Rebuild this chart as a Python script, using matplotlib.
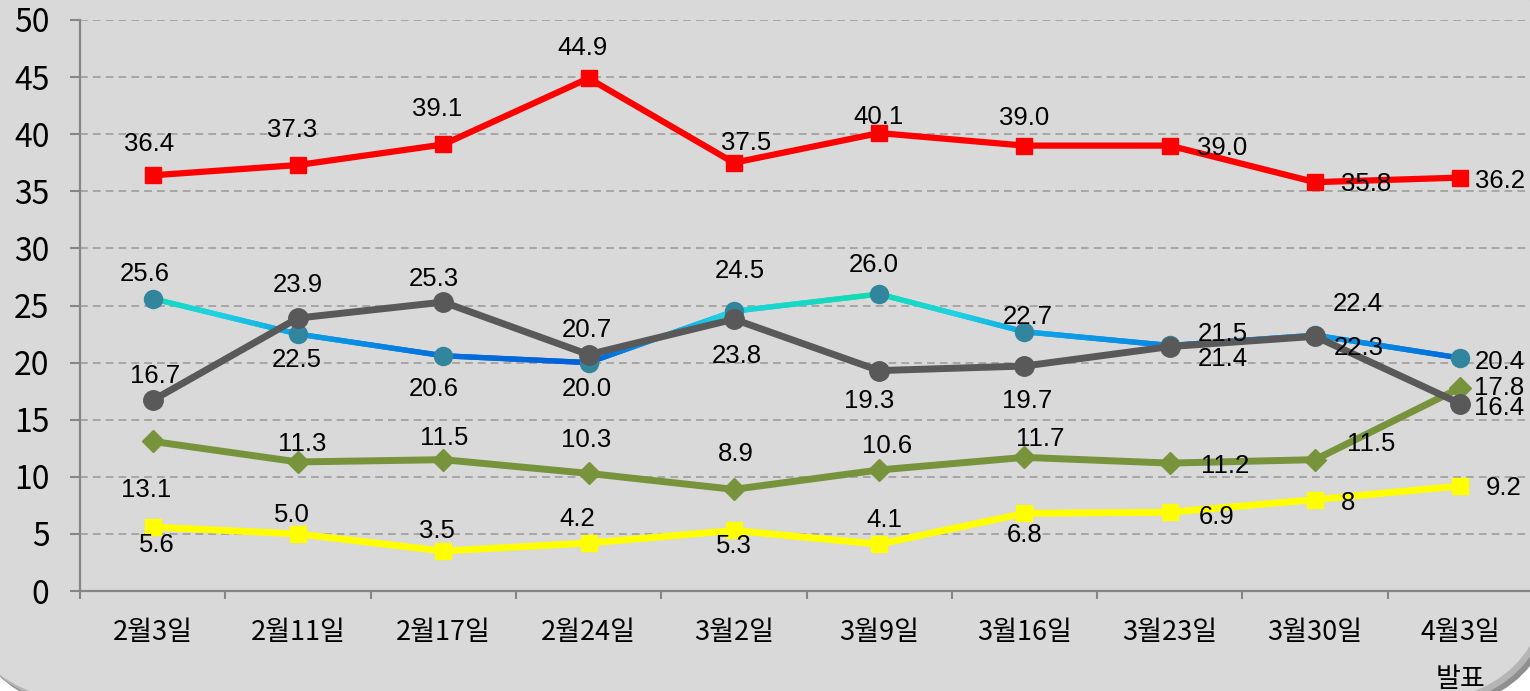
import numpy as np
import matplotlib
matplotlib.use('Agg')
import matplotlib.pyplot as plt
from matplotlib.patches import FancyBboxPatch
from matplotlib.collections import LineCollection
from matplotlib.colors import LinearSegmentedColormap
from matplotlib.transforms import IdentityTransform

# ---------------- data ----------------
categories = ['2월3일', '2월11일', '2월17일', '2월24일', '3월2일', '3월9일',
              '3월16일', '3월23일', '3월30일', '4월3일\n발표']
red_vals = [36.4, 37.3, 39.1, 44.9, 37.5, 40.1, 39.0, 39.0, 35.8, 36.2]
blue_vals = [25.6, 22.5, 20.6, 20.0, 24.5, 26.0, 22.7, 21.5, 22.4, 20.4]
gray_vals = [16.7, 23.9, 25.3, 20.7, 23.8, 19.3, 19.7, 21.4, 22.3, 16.4]
green_vals = [13.1, 11.3, 11.5, 10.3, 8.9, 10.6, 11.7, 11.2, 11.5, 17.8]
yellow_vals = [5.6, 5.0, 3.5, 4.2, 5.3, 4.1, 6.8, 6.9, 8, 9.2]
yellow_labels = ['5.6', '5.0', '3.5', '4.2', '5.3', '4.1', '6.8', '6.9', '8', '9.2']
y_ticks = [0, 5, 10, 15, 20, 25, 30, 35, 40, 45, 50]

# label offsets (pixels, label centre relative to point)
red_off = [(-4, 33), (-6, 37), (-6, 37), (-6, 32), (12, 22), (-1, 18),
           (0, 30), (52, 0), (51, 0), (40, -1)]
blue_off = [(-8, 27), (-1, -24), (-9, -31), (-2, -24), (6, 42), (-5, 31),
            (3, 17), (53, 13), (43, 33), (39, -2)]
gray_off = [(2, 26), (0, 35), (-9, 25), (-2, 27), (3, -35), (-10, -28),
            (3, -33), (53, -10), (44, -10), (39, -2)]
green_off = [(-7, -47), (4, 20), (1, 24), (-2, 35), (2, 37), (8, 26),
             (16, 20), (55, -1), (56, 18), (39, 2)]
yellow_off = [(4, -16), (-6, 21), (-6, 22), (-11, 26), (0, -14), (5, 26),
              (0, -20), (47, -3), (33, -1), (43, 0)]

W, H = 1530, 691
fig = plt.figure(figsize=(W / 100, H / 100), dpi=100, facecolor='white')

# rounded background with shadow
R = 150
for dx, dy, col in [(8, -9, '#8f8f8f'), (4, -5, '#b5b5b5'), (0, 0, '#d9d9d9')]:
    p = FancyBboxPatch((-48 + dx, -12 + dy), 1600, 760,
                       boxstyle=f"round,pad=0,rounding_size={R}",
                       transform=IdentityTransform(), facecolor=col,
                       edgecolor='none', zorder=-5)
    fig.add_artist(p)

ax = fig.add_axes([80 / W, 100 / H, 1453 / W, 571 / H])
ax.set_facecolor('none')
ax.set_xlim(0, 10)
ax.set_ylim(0, 50)
x = np.arange(len(categories)) + 0.5

for s in ['top', 'right']:
    ax.spines[s].set_visible(False)
for s in ['left', 'bottom']:
    ax.spines[s].set_color('#868686')
    ax.spines[s].set_linewidth(1.6)

ax.set_yticks(y_ticks)
ax.set_yticklabels([str(v) for v in y_ticks], family=['Noto Sans CJK KR', 'DejaVu Sans'],
                   fontsize=23)
ax.tick_params(axis='y', length=7, width=1.5, color='#868686', pad=15, labelcolor='black')

ax.set_xticks(np.arange(0, 11))
ax.set_xticklabels([])
ax.tick_params(axis='x', which='major', length=6, width=1.5, color='#868686', direction='out')
ax.set_xticks(x, minor=True)
ax.set_xticklabels(categories, minor=True, family=['Noto Sans CJK KR', 'DejaVu Sans'],
                   fontsize=19.5, linespacing=1.95, va='top')
ax.tick_params(axis='x', which='minor', length=0, pad=20, labelcolor='black')

for yv in y_ticks[1:]:
    ax.axhline(yv, color='#a6a6a6', lw=1.4, ls=(0, (4, 2.6)), zorder=1)

# blue gradient line
cmap = LinearSegmentedColormap.from_list(
    'bl', [(0, '#0060d8'), (0.35, '#0a96e6'), (0.7, '#1fd2e2'), (1, '#10dcb0')])
norm = plt.Normalize(20, 26)
segs, cols = [], []
for i in range(len(x) - 1):
    t = np.linspace(0, 1, 30)
    xs = x[i] + (x[i + 1] - x[i]) * t
    ys = blue_vals[i] + (blue_vals[i + 1] - blue_vals[i]) * t
    for j in range(len(t) - 1):
        segs.append([(xs[j], ys[j]), (xs[j + 1], ys[j + 1])])
        cols.append(cmap(norm((ys[j] + ys[j + 1]) / 2)))
lc = LineCollection(segs, colors=cols, linewidths=3.8, capstyle='projecting',
                    antialiaseds=True, zorder=3)
ax.add_collection(lc)
ax.plot(x, blue_vals, ls='none', marker='o', ms=13, color='#31859c', zorder=4)

ax.plot(x, red_vals, color='#ff0000', lw=4.5, marker='s', ms=11.5, zorder=5)
ax.plot(x, green_vals, color='#77933c', lw=5, marker='D', ms=11.5, zorder=5)
ax.plot(x, yellow_vals, color='#ffff00', lw=5, marker='s', ms=12, zorder=5)
ax.plot(x, gray_vals, color='#595959', lw=5, marker='o', ms=14, zorder=6)

def labels(vals, texts, offs):
    for xi, v, t, (dx, dy) in zip(x, vals, texts, offs):
        ax.annotate(t, (xi, v), xytext=(dx, dy - 9), textcoords='offset pixels',
                    ha='center', va='baseline', fontsize=18.5,
                    family='Liberation Sans', color='black', zorder=10)

labels(red_vals, [f'{v:.1f}' for v in red_vals], red_off)
labels(blue_vals, [f'{v:.1f}' for v in blue_vals], blue_off)
labels(gray_vals, [f'{v:.1f}' for v in gray_vals], gray_off)
labels(green_vals, [f'{v:.1f}' for v in green_vals], green_off)
labels(yellow_vals, yellow_labels, yellow_off)

fig.savefig('out.png', dpi=100, facecolor='white')
